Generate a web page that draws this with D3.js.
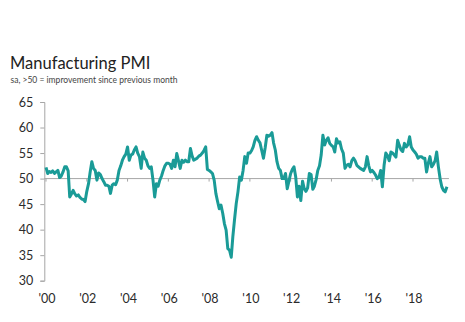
<!DOCTYPE html>
<html><head><meta charset="utf-8">
<script src="https://cdn.jsdelivr.net/npm/d3@7"></script>
<style>
html,body{margin:0;padding:0;background:#fff;}
svg{display:block;font-family:Lato,"Open Sans",sans-serif;}
</style></head>
<body><svg id="c" width="465" height="322"></svg>
<script>
const startYear = 2000, startMonth = 0;
const pmi2000 = [52.2,51.0,51.4,51.2,51.5,51.0,51.3,51.6,50.2,50.5,51.3,52.3];
const pmi2001 = [52.3,51.5,46.4,47.0,47.7,47.0,46.6,46.8,46.3,46.0,45.9,45.5];
const pmi2002 = [47.5,49.0,51.2,53.3,52.0,51.6,49.7,51.1,50.8,50.0,49.4,48.7];
const pmi2003 = [48.7,48.5,47.1,48.7,49.0,48.8,49.7,51.6,52.5,53.6,54.3,54.8];
const pmi2004 = [56.2,53.6,54.6,54.8,55.6,56.2,55.0,54.3,52.0,55.2,54.0,53.6];
const pmi2005 = [52.5,52.0,52.3,49.7,46.4,49.0,48.5,49.7,50.5,51.6,52.5,53.0];
const pmi2006 = [53.0,52.8,52.0,53.6,52.3,54.9,53.5,52.0,53.6,53.2,53.6,53.3];
const pmi2007 = [53.3,55.9,54.5,53.6,53.8,54.0,54.4,54.6,55.0,55.5,56.2,51.8];
const pmi2008 = [51.6,51.3,51.0,49.7,47.1,45.5,44.1,44.8,43.2,41.2,39.9,36.3];
const pmi2009 = [36.0,34.6,38.6,42.0,45.1,47.4,50.3,49.7,51.6,54.3,53.0,55.0];
const pmi2010 = [55.0,55.5,56.2,57.5,58.2,57.5,57.0,55.5,54.0,56.0,58.5,58.3];
const pmi2011 = [58.5,59.0,57.0,55.6,53.3,52.0,51.6,50.0,50.0,51.0,48.0,49.5];
const pmi2012 = [51.0,51.8,52.3,50.3,46.4,48.5,45.7,49.5,48.0,47.5,48.2,51.0];
const pmi2013 = [50.8,47.9,48.5,49.8,51.6,52.5,54.6,58.5,56.6,57.5,58.0,56.9];
const pmi2014 = [56.5,56.2,55.2,57.8,57.0,57.2,55.8,55.0,52.0,52.6,52.8,52.3];
const pmi2015 = [53.5,54.0,53.5,52.6,52.3,52.0,51.8,51.6,52.3,54.3,52.5,51.3];
const pmi2016 = [51.6,51.2,50.7,50.0,50.2,51.6,48.4,52.6,55.0,54.5,53.5,55.2];
const pmi2017 = [55.0,54.6,54.2,57.5,56.5,55.6,55.3,56.9,56.2,56.6,58.2,56.2];
const pmi2018 = [55.6,55.2,54.8,54.0,54.3,54.3,54.0,54.0,51.3,53.0,54.3,52.3];
const pmi2019 = [52.8,53.5,55.2,52.3,50.0,48.4,47.7,47.4,48.4];
const yTicks = [30,35,40,45,50,55,60,65];
const xTickYears = [2000,2002,2004,2006,2008,2010,2012,2014,2016,2018];
const xTickLabels = ["'00","'02","'04","'06","'08","'10","'12","'14","'16","'18"];
const title = "Manufacturing PMI";
const subtitle = "sa, >50 = improvement since previous month";

const values = [].concat(pmi2000,pmi2001,pmi2002,pmi2003,pmi2004,pmi2005,pmi2006,pmi2007,pmi2008,pmi2009,pmi2010,pmi2011,pmi2012,pmi2013,pmi2014,pmi2015,pmi2016,pmi2017,pmi2018,pmi2019);
const data = values.map((v,i)=>({date:new Date(startYear, startMonth+i, 1), v}));

const svg = d3.select("#c");
const x = d3.scaleTime().domain([new Date(2000,0,1), new Date(2018,0,1)]).range([46, 413]);
const y = d3.scaleLinear().domain([30,65]).range([280.7,102]);
const axisX = 44.3;
const grey = "#a6a6a6";
const txt = "#2b2b2b";

svg.append("text").attr("x",10).attr("y",69).attr("font-size",16.5).attr("fill","#222").text(title);
svg.append("text").attr("x",10.5).attr("y",83).attr("font-size",8.5).attr("fill","#444").text(subtitle);

// y axis
const ya = svg.append("g").attr("transform",`translate(${axisX},0)`)
  .call(d3.axisLeft(y).tickValues(yTicks).tickSize(4).tickPadding(7).tickFormat(d3.format("d")));
ya.select(".domain").attr("stroke",grey);
ya.selectAll(".tick line").attr("stroke",grey);
ya.selectAll(".tick text").attr("font-size",12.5).attr("fill",txt).attr("font-family","Lato,'Open Sans',sans-serif");

// 50 reference line with small ticks
const refEnd = x(data[data.length-1].date)+2;
svg.append("line").attr("x1",axisX).attr("x2",refEnd).attr("y1",y(50)).attr("y2",y(50)).attr("stroke",grey).attr("stroke-width",1);
svg.append("g").selectAll("line").data(xTickYears).join("line")
  .attr("x1",d=>x(new Date(d,0,1))).attr("x2",d=>x(new Date(d,0,1)))
  .attr("y1",y(50)).attr("y2",y(50)+3).attr("stroke",grey);

// bottom labels
svg.append("g").selectAll("text").data(xTickYears).join("text")
  .attr("x",d=>x(new Date(d,0,1))+1).attr("y",303).attr("text-anchor","middle")
  .attr("font-size",12.5).attr("fill",txt).text((d,i)=>xTickLabels[i]);

// line
svg.append("path").datum(data)
  .attr("fill","none").attr("stroke","#1a9b97").attr("stroke-width",3)
  .attr("stroke-linejoin","round")
  .attr("d", d3.line().x(d=>x(d.date)).y(d=>y(d.v)));
</script>
</body></html>
